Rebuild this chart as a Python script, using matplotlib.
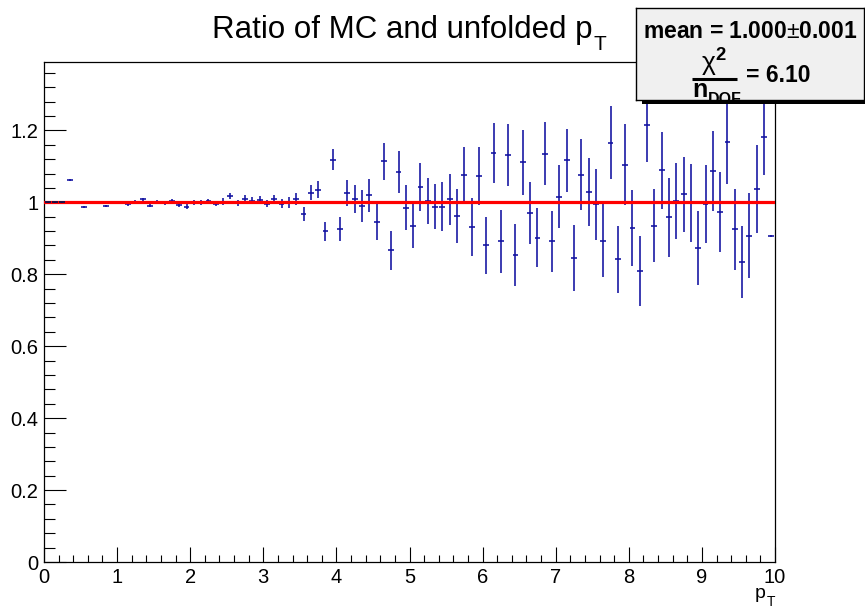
import numpy as np
import matplotlib
matplotlib.use("Agg")
import matplotlib.pyplot as plt
import matplotlib.ticker as mticker
from matplotlib.patches import Rectangle

plt.rcParams["font.family"] = ["Liberation Sans", "DejaVu Sans"]
plt.rcParams["mathtext.fontset"] = "custom"
plt.rcParams["mathtext.rm"] = "Liberation Sans"
plt.rcParams["mathtext.it"] = "Liberation Sans:italic"
plt.rcParams["mathtext.bf"] = "Liberation Sans:bold"

# ── Datos: 100 bins de 0.1 entre 0 y 10 ─────────────────────────────────────
bin_width = 0.1
ratio = [
    1.000, 1.000, 1.000, 1.063, 1.000, 0.988, 1.000, 0.997, 0.990, 1.000,
    1.000, 0.995, 1.002, 1.008, 0.991, 1.000, 0.997, 1.004, 0.992, 0.988,
    0.999, 1.000, 1.004, 0.995, 1.002, 1.017, 0.998, 1.008, 1.004, 1.006,
    0.996, 1.008, 0.996, 1.000, 1.010, 0.967, 1.026, 1.035, 0.919, 1.118,
    0.925, 1.027, 1.009, 0.989, 1.019, 0.944, 1.114, 0.866, 1.084, 0.985,
    0.935, 1.042, 1.003, 0.988, 0.988, 1.008, 0.962, 1.076, 0.931, 1.074,
    0.881, 1.137, 0.891, 1.131, 0.854, 1.111, 0.971, 0.902, 1.135, 0.891,
    1.016, 1.117, 0.844, 1.077, 1.029, 0.994, 0.893, 1.166, 0.841, 1.105,
    0.929, 0.809, 1.214, 0.935, 1.089, 0.958, 1.003, 1.022, 0.998, 0.872,
    0.996, 1.087, 0.973, 1.168, 0.925, 0.833, 0.907, 1.037, 1.182, 0.907,
]
ratio_err = [
    0.002, 0.002, 0.002, 0.003, 0.003, 0.003, 0.003, 0.003, 0.003, 0.003,
    0.004, 0.004, 0.004, 0.005, 0.005, 0.005, 0.005, 0.006, 0.006, 0.006,
    0.0065, 0.0075, 0.0065, 0.0065, 0.009, 0.009, 0.009, 0.011, 0.010, 0.011,
    0.010, 0.0125, 0.012, 0.015, 0.017, 0.019, 0.021, 0.024, 0.026, 0.029,
    0.033, 0.036, 0.040, 0.044, 0.046, 0.050, 0.052, 0.053, 0.058, 0.062,
    0.063, 0.067, 0.064, 0.063, 0.069, 0.070, 0.074, 0.077, 0.081, 0.081,
    0.079, 0.084, 0.088, 0.087, 0.087, 0.091, 0.086, 0.081, 0.088, 0.084,
    0.088, 0.088, 0.092, 0.098, 0.095, 0.098, 0.101, 0.102, 0.094, 0.112,
    0.106, 0.098, 0.102, 0.101, 0.107, 0.110, 0.105, 0.104, 0.109, 0.103,
    0.108, 0.112, 0.112, 0.117, 0.112, 0.100, 0.118, 0.123, 0.105, 0.003,
]
pt_centers = np.arange(len(ratio)) * bin_width + bin_width / 2
mean_val = 1.000

BLUE = "#1010a0"
RED = "#ff0000"
W, H = 865, 611

def fx(px): return px / W
def fy(py): return (H - py) / H

fig = plt.figure(figsize=(8.65, 6.11), dpi=100, facecolor="white")
ax = fig.add_axes([fx(44), fy(562), 731 / W, 500 / H])

# primeros bins encima de la linea roja, el resto por debajo
n_front = 3
ax.errorbar(pt_centers[:n_front], ratio[:n_front], yerr=ratio_err[:n_front],
            xerr=0.04, fmt="none", ecolor="#10104a", elinewidth=1.3, zorder=4)
ax.errorbar(pt_centers[n_front:], ratio[n_front:], yerr=ratio_err[n_front:],
            xerr=0.04, fmt="none", ecolor=BLUE, elinewidth=1.15, zorder=2)
ax.axhline(mean_val, color=RED, lw=2.3, zorder=3)

ax.set_xlim(0, 10)
ax.set_ylim(0, 1.39)
ax.xaxis.set_major_locator(mticker.MultipleLocator(1))
ax.xaxis.set_minor_locator(mticker.MultipleLocator(0.2))
ax.yaxis.set_major_locator(mticker.MultipleLocator(0.2))
ax.yaxis.set_minor_locator(mticker.MultipleLocator(0.04))
ax.yaxis.set_major_formatter(mticker.FuncFormatter(lambda v, _: f"{v:g}"))
ax.tick_params(axis="x", which="major", direction="in", length=10.8, width=0.8,
               labelsize=14.5, pad=4, top=False)
ax.tick_params(axis="x", which="minor", direction="in", length=5.4, width=0.8, top=False)
ax.tick_params(axis="y", which="major", direction="in", length=15.8, width=0.8,
               labelsize=14.5, pad=4, right=False)
ax.tick_params(axis="y", which="minor", direction="in", length=7.9, width=0.8, right=False)
for sp in ax.spines.values():
    sp.set_linewidth(0.9)

renderer = fig.canvas.get_renderer()

def text_sub(x_px, base_px, main, sub, size, sub_size, drop_px, **kw):
    t = fig.text(fx(x_px), fy(base_px), main, ha="left", va="baseline",
                 fontsize=size, **kw)
    bb = t.get_window_extent(renderer)
    fig.text(bb.x1 / W + 1 / W, fy(base_px + drop_px), sub, ha="left",
             va="baseline", fontsize=sub_size, **kw)

# Titulo y eje
text_sub(212, 38, "Ratio of MC and unfolded p", "T", 22.5, 15, 12)
text_sub(755, 598, "p", "T", 14, 10, 8)

# ── Caja de estadisticas ─────────────────────────────────────────────────────
bx0, bx1, by0, by1 = 636, 864, 8, 100
shadow = Rectangle((fx(bx0 + 6), fy(by1 + 4)), (bx1 - bx0) / W, (by1 - by0) / H,
                   transform=fig.transFigure, facecolor="black", edgecolor="none",
                   zorder=1.5)
fig.patches.append(shadow)
box = fig.add_axes([fx(bx0), fy(by1), (bx1 - bx0) / W, (by1 - by0) / H], zorder=2)
box.set_facecolor("#f0f0f0")
box.set_xticks([]); box.set_yticks([])
box.set_xlim(bx0, bx1); box.set_ylim(by1, by0)
for sp in box.spines.values():
    sp.set_linewidth(1.0); sp.set_color("black")
box.text(750, 31, "mean = 1.000$\\pm$0.001", ha="center", va="center",
         fontsize=16.5, fontweight="bold")
box.text(714, 72, "\u03c7$^{\\mathbf{2}}$", ha="center", va="baseline",
         fontsize=19, clip_on=True)
box.plot([692, 737], [78.5, 78.5], color="black", lw=2.2, solid_capstyle="butt")
t_n = box.text(692, 97, "n", ha="left", va="baseline", fontsize=18,
               fontweight="bold", clip_on=True)
nb = t_n.get_window_extent(renderer)
nb_right = box.transData.inverted().transform((nb.x1, nb.y0))[0]
box.text(nb_right + 0.5, 104, "DOF", ha="left", va="baseline", fontsize=11.5,
         fontweight="bold", clip_on=True)
box.text(811, 75, "= 6.10", ha="right", va="center", fontsize=16.5,
         fontweight="bold")

fig.savefig("out.png", dpi=100, facecolor="white")
plt.close(fig)
